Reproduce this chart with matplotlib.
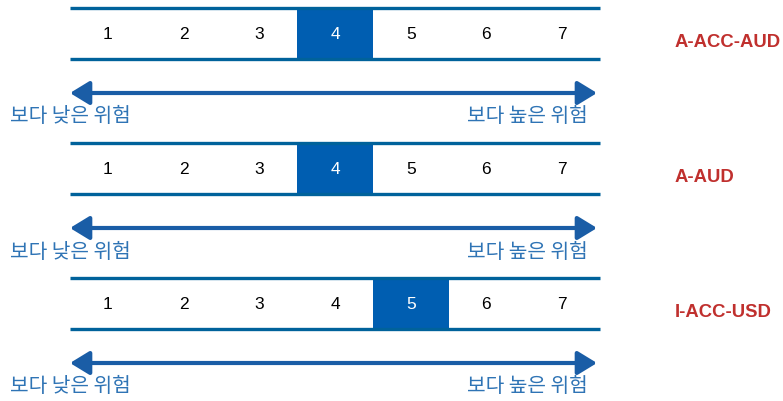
import matplotlib
matplotlib.use("Agg")
import matplotlib.pyplot as plt
from matplotlib.patches import Rectangle, FancyArrowPatch

plt.rcParams['font.family'] = ['Liberation Sans', 'DejaVu Sans']

# data
classes = ["A-ACC-AUD", "A-AUD", "I-ACC-USD"]
risk_levels = [4, 4, 5]
scale = [1, 2, 3, 4, 5, 6, 7]
low_label = "보다 낮은 위험"
high_label = "보다 높은 위험"

line_col = "#00629B"
fill_col = "#005EB1"
arrow_col = "#1A5DA6"
text_blue = "#2F74B5"
red = "#C0302E"

W, H = 783, 401
fig = plt.figure(figsize=(W / 100, H / 100), dpi=100)
ax = fig.add_axes([0, 0, 1, 1])
ax.set_xlim(0, W)
ax.set_ylim(H, 0)
ax.axis("off")

x0, x1 = 70, 600
cell = (x1 - x0) / len(scale)
spacing = 135
kr = ["Noto Sans CJK KR", "DejaVu Sans"]

for i, (name, level) in enumerate(zip(classes, risk_levels)):
    top = 8 + i * spacing
    bot = top + 51
    mid = (top + bot) / 2
    # highlighted cell
    hx = x0 + (level - 1) * cell
    ax.add_patch(Rectangle((hx, top), cell, bot - top, color=fill_col, lw=0))
    ax.plot([x0, x1], [top, top], color=line_col, lw=2.4, solid_capstyle="butt")
    ax.plot([x0, x1], [bot, bot], color=line_col, lw=2.4, solid_capstyle="butt")
    for n in scale:
        cx = x0 + (n - 0.5) * cell
        ax.text(cx, mid + 1, str(n), ha="center", va="center", fontsize=12.5,
                color="white" if n == level else "black")
    ax.text(675, mid + 9, name, ha="left", va="center", fontsize=13.3,
            fontweight="bold", color=red)

    ay = top + 85
    arr = FancyArrowPatch((x0, ay), (x1 - 3, ay), arrowstyle="<|-|>,head_length=0.9,head_width=0.55",
                          mutation_scale=13, color=arrow_col, lw=3, shrinkA=0, shrinkB=0)
    ax.add_patch(arr)
    ly = ay + 24
    ax.text(10, ly, low_label, ha="left", va="center", fontsize=14.6,
            color=text_blue, family=kr, fontweight="light")
    ax.text(588, ly, high_label, ha="right", va="center", fontsize=14.6,
            color=text_blue, family=kr, fontweight="light")

fig.savefig("out.png", dpi=100)
